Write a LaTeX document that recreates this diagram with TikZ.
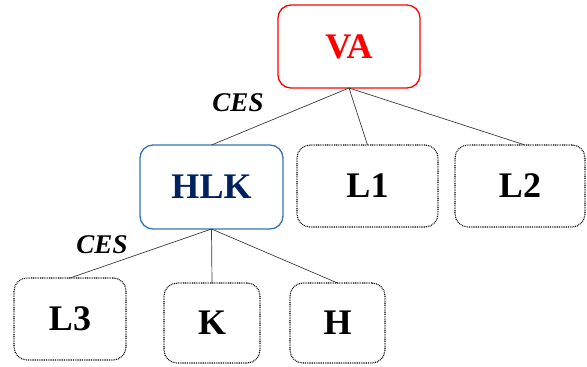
\documentclass[tikz,border=0pt]{standalone}
\usepackage{fontspec}
\setmainfont{Liberation Serif}
\definecolor{headred}{RGB}{255,0,0}
\definecolor{navytext}{RGB}{0,32,96}
\definecolor{bluebord}{RGB}{52,115,180}
\definecolor{linkgray}{RGB}{60,60,60}
\begin{document}
\begin{tikzpicture}[x=1pt,y=-1pt,
  box/.style={rounded corners=13pt, inner sep=0pt, outer sep=0pt,
    font=\fontsize{36}{40}\selectfont\bfseries, align=center},
  rootbox/.style={box, draw=headred, line width=1.3pt, text=headred},
  midbox/.style={box, draw=bluebord, line width=1.3pt, text=navytext},
  leafbox/.style={box, draw=black, line width=1.1pt, dash pattern=on 0.9pt off 0.9pt, text=black},
  link/.style={draw=linkgray, line width=0.7pt},
  tag/.style={font=\fontsize{27}{29}\selectfont\bfseries\itshape, inner sep=0pt}]
\useasboundingbox (0,0) rectangle (587,367);

% top level
\node[rootbox, minimum width=142pt, minimum height=83pt] (va) at (349,46.5) {VA};

% second level
\node[midbox, minimum width=143pt, minimum height=84pt] (hlk) at (211.5,187) {HLK};
\node[leafbox, minimum width=141pt, minimum height=82pt] (l1) at (367.5,186) {L1};
\node[leafbox, minimum width=130pt, minimum height=82pt] (l2) at (520,186) {L2};

% third level
\node[leafbox, minimum width=112pt, minimum height=82pt] (l3) at (70,319) {L3};
\node[leafbox, minimum width=96pt, minimum height=80pt] (k) at (212,323) {K};
\node[leafbox, minimum width=95pt, minimum height=80pt] (h) at (337.5,323) {H};

% connectors
\draw[link] (va.south) -- (hlk.north);
\draw[link] (va.south) -- (l1.north);
\draw[link] (va.south) -- ([xshift=5pt]l2.north);
\draw[link] (hlk.south) -- (l3.north);
\draw[link] (hlk.south) -- (k.north);
\draw[link] (hlk.south) -- (h.north);

% edge tags
\node[tag] (ces1) at (238,103) {CES};
\node[tag] (ces2) at (102,245) {CES};
\end{tikzpicture}
\end{document}
